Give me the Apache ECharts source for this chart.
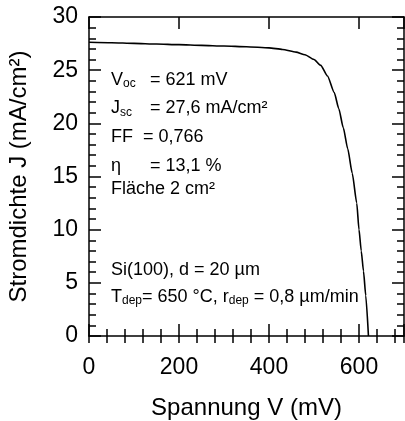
<!DOCTYPE html>
<html>
<head>
<meta charset="utf-8">
<script src="https://cdn.jsdelivr.net/npm/echarts@6/dist/echarts.min.js"></script>
<style>
  html, body { margin: 0; padding: 0; background: #fff; }
  #chart { width: 405px; height: 421px; }
</style>
</head>
<body>
<div id="chart"></div>
<script>
// J-V curve of the thin-film Si solar cell
const voltage = [0, 50, 100, 150, 200, 250, 300, 350, 400, 430, 460, 480, 500, 515, 530, 545, 555, 565, 575, 585, 595, 600, 605, 610, 615, 621];
const currentDensity = [27.62, 27.58, 27.52, 27.46, 27.40, 27.33, 27.27, 27.20, 27.10, 26.95, 26.70, 26.45, 26.00, 25.45, 24.45, 22.90, 21.40, 19.60, 17.60, 15.30, 12.50, 10.00, 8.00, 6.10, 3.80, 0];

const xTicksMajor = [0, 200, 400, 600];
const xRange = [0, 700];
const yRange = [0, 30];

const xName = 'Spannung V (mV)';
const yName = 'Stromdichte J (mA/cm²)';

// cell parameters: [label, subscript, value]
const params = [
  ['V', 'oc', '= 621 mV'],
  ['J', 'sc', '= 27,6 mA/cm²'],
  ['FF', '', '= 0,766'],
  ['η', '', '= 13,1 %']
];
const areaText = 'Fläche 2 cm²';
const sampleText = 'Si(100), d = 20 µm';
const depText = ['T', 'dep', '= 650 °C, r', 'dep', ' = 0,8 µm/min'];

const FONT = "'Liberation Sans', Arial, Helvetica, sans-serif";
const black = '#000';

const chart = echarts.init(document.getElementById('chart'), null, { renderer: 'canvas' });

const majorTickStyle = { show: true, inside: true, length: 12, lineStyle: { color: black, width: 1.5 } };
const minorTickStyle = { show: true, inside: true, length: 7, lineStyle: { color: black, width: 1.5 } };

function xAxisMajor(position, showLabels) {
  return {
    type: 'value', position, min: xRange[0], max: xRange[1], interval: 200,
    axisLine: { show: true, onZero: false, lineStyle: { color: black, width: 1.5 } },
    axisTick: majorTickStyle,
    axisLabel: {
      show: showLabels, fontSize: 23, fontFamily: FONT, color: black, margin: 20,
      formatter: v => (xTicksMajor.indexOf(v) >= 0 ? String(v) : '')
    },
    splitLine: { show: false }
  };
}
function xAxisMinor(position) {
  return {
    type: 'value', position, min: xRange[0], max: xRange[1], interval: 40,
    axisLine: { show: false },
    axisTick: minorTickStyle,
    axisLabel: { show: false },
    splitLine: { show: false }
  };
}
function yAxisDef(position, showLabels) {
  return {
    type: 'value', position, min: yRange[0], max: yRange[1], interval: 5,
    axisLine: { show: true, onZero: false, lineStyle: { color: black, width: 1.5 } },
    axisTick: majorTickStyle,
    minorTick: { show: true, splitNumber: 5, length: 7, lineStyle: { color: black, width: 1.5 } },
    axisLabel: { show: showLabels, fontSize: 23, fontFamily: FONT, color: black, margin: 11 },
    splitLine: { show: false },
    minorSplitLine: { show: false }
  };
}

const xAxes = [xAxisMajor('bottom', true), xAxisMinor('bottom'), xAxisMajor('top', false), xAxisMinor('top')];
Object.assign(xAxes[0], {
  name: xName, nameLocation: 'middle', nameGap: 60,
  nameTextStyle: { fontSize: 24, fontFamily: FONT, color: black }
});
const yAxes = [yAxisDef('left', true), yAxisDef('right', false)];
Object.assign(yAxes[0], {
  name: yName, nameLocation: 'middle', nameGap: 58,
  nameTextStyle: { fontSize: 24, fontFamily: FONT, color: black }
});

// annotation text blocks
const richStyles = {
  b: { fontSize: 18, fontFamily: FONT, color: black, lineHeight: 22, verticalAlign: 'middle' },
  s: { fontSize: 12, fontFamily: FONT, color: black, padding: [8, 0, 0, 0], verticalAlign: 'middle' }
};
function richText(parts, x, y) {
  const str = parts.map((p, i) => (p === '' ? '' : (i % 2 === 0 ? '{b|' : '{s|') + p + '}')).join('');
  return {
    type: 'text', x, y, silent: true,
    style: { text: str, rich: richStyles, verticalAlign: 'middle', align: 'left' }
  };
}
function plainText(str, x, y) {
  return {
    type: 'text', x, y, silent: true,
    style: { text: str, fontSize: 18, fontFamily: FONT, fill: black, verticalAlign: 'middle', align: 'left' }
  };
}

const paramRows = [80, 108.5, 137, 166];
const valueX = [150, 150, 143, 150];
const graphics = [];
params.forEach((p, i) => {
  graphics.push(richText([p[0], p[1]], 111, paramRows[i]));
  graphics.push(plainText(p[2], valueX[i], paramRows[i]));
});
graphics.push(plainText(areaText, 111, 189.5));
graphics.push(plainText(sampleText, 111, 270));
graphics.push(richText(depText, 111, 297));

chart.setOption({
  animation: false,
  backgroundColor: '#fff',
  grid: { left: 89, right: 1, top: 17, bottom: 85, containLabel: false, outerBoundsMode: 'none' },
  xAxis: xAxes,
  yAxis: yAxes,
  series: [{
    type: 'line',
    xAxisIndex: 0,
    yAxisIndex: 0,
    data: voltage.map((v, i) => [v, currentDensity[i]]),
    showSymbol: false,
    smooth: 0.2,
    smoothMonotone: 'x',
    lineStyle: { color: black, width: 1.6 },
    clip: true
  }],
  graphic: graphics
});
</script>
</body>
</html>
